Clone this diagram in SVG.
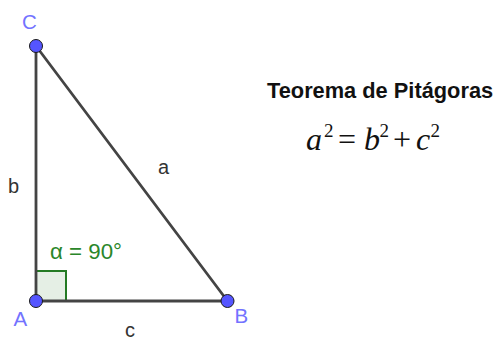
<svg xmlns="http://www.w3.org/2000/svg" width="495" height="338" viewBox="0 0 495 338">
<style>
.seg{stroke:#444;stroke-width:2.8;fill:none;stroke-linecap:round}
.pt{fill:#5555ff;stroke:#1a1a1a;stroke-width:1}
.plbl{font-family:"Liberation Sans",Arial,sans-serif;font-size:20.5px;fill:#7373ff}
.slbl{font-family:"Liberation Sans",Arial,sans-serif;font-size:20px;fill:#333}
.ang{font-family:"Liberation Sans",Arial,sans-serif;font-size:22.3px;fill:#2a862a}
.title{font-family:"Liberation Sans",Arial,sans-serif;font-size:21.8px;font-weight:bold;fill:#111}
.mi{font-family:"Liberation Serif","Times New Roman",serif;font-style:italic;font-size:32px;fill:#111}
.mn{font-family:"Liberation Serif","Times New Roman",serif;font-size:32px;fill:#111}
.sup{font-family:"Liberation Serif","Times New Roman",serif;font-size:19px;fill:#111}
</style>
<rect width="495" height="338" fill="#fff"/>
<g id="angle">
<rect x="36" y="271" width="30" height="30" fill="#006400" fill-opacity="0.1" stroke="#237a23" stroke-width="2"/>
<text class="ang" x="50" y="259">α = 90°</text>
</g>
<g id="connectors">
<line class="seg" x1="36" y1="46" x2="36" y2="301"/>
<line class="seg" x1="36" y1="46" x2="227.5" y2="301"/>
<line class="seg" x1="36" y1="301" x2="227.5" y2="301"/>
<text class="slbl" x="8" y="193">b</text>
<text class="slbl" x="158" y="174">a</text>
<text class="slbl" x="125" y="337">c</text>
</g>
<g id="C"><circle class="pt" cx="36" cy="46" r="6.5"/><text class="plbl" x="22" y="29">C</text></g>
<g id="A"><circle class="pt" cx="36" cy="301" r="6.5"/><text class="plbl" x="13.5" y="326">A</text></g>
<g id="B"><circle class="pt" cx="227.5" cy="301" r="6.5"/><text class="plbl" x="234.5" y="323">B</text></g>
<g id="theorem">
<text class="title" x="267" y="98">Teorema de Pitágoras</text>
<text class="mi" x="306" y="150">a</text>
<text class="sup" x="324" y="137">2</text>
<text class="mn" x="338" y="150">=</text>
<text class="mi" x="364" y="150">b</text>
<text class="sup" x="379.5" y="137">2</text>
<text class="mn" x="393" y="150">+</text>
<text class="mi" x="416" y="150">c</text>
<text class="sup" x="430.5" y="137">2</text>
</g>
</svg>
